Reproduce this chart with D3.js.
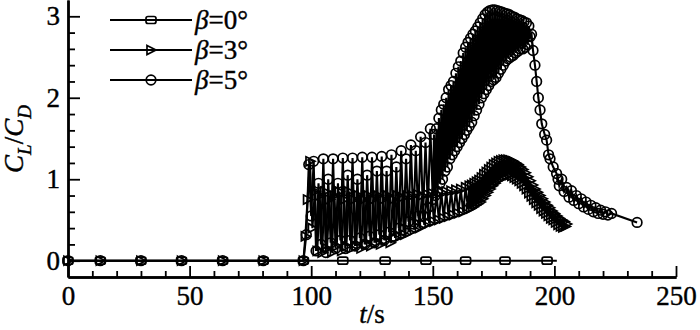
<!DOCTYPE html>
<html>
<head>
<meta charset="utf-8">
<script src="https://cdn.jsdelivr.net/npm/d3@7"></script>
<style>
  body { margin: 0; background: #fff; }
  svg { display: block; }
</style>
</head>
<body>
<svg width="700" height="330"></svg>
<script>
const FONT = "'Liberation Serif', 'Times New Roman', serif";

// tick values
const xMajor = [0, 50, 100, 150, 200, 250];
const yMajor = [0, 1, 2, 3];
const betaAngles = [0, 3, 5];

// beta = 0 deg : [t, CL/CD]
const beta0 = [[0,0],[13.3,0],[30,0],[46.7,0],[63.6,0],[80.3,0],[96.8,0],[113,0],[130.4,0],
  [147.2,0],[163.5,0],[179.7,0],[197,0],[201,0]];

// beta = 3 deg
const beta3 = [[0,0],[13.3,0],[30,0],[46.7,0],[63.6,0],[80.3,0],[96.8,0],
  [97.6,0.3],[98.5,0.75],[99.5,1.22],[100.5,0.4],[101.5,0.85],[102.5,0.12],[103.5,0.8],[104.5,0.1],
  [105.5,0.85],[106.5,0.15],[107.5,0.75],[108.5,0.1],[109.5,0.8],[110.5,0.18],[111.5,0.85],
  [112.5,0.12],[113.5,0.75],[114.5,0.18],[115.5,0.85],[116.5,0.15],[117.5,0.75],[118.5,0.18],
  [119.5,0.8],[120.5,0.15],[121.5,0.75],[122.5,0.2],[123.5,0.8],[124.5,0.18],[125.5,0.75],
  [126.5,0.22],[127.5,0.8],[128.5,0.2],[129.5,0.75],[130.5,0.25],[131.5,0.8],[132.5,0.22],
  [133.5,0.75],[134.5,0.28],[135.5,0.8],[136.5,0.3],[137.5,0.78],[138.5,0.32],[139.5,0.8],
  [140.5,0.35],[141.5,0.8],[142.5,0.38],[143.5,0.82],[144.5,0.4],[145.5,0.8],[146.5,0.44],
  [147.5,0.82],[148.5,0.46],[149.5,0.83],[150.5,0.48],[151.5,0.82],[152.5,0.5],[153.5,0.84],
  [154.5,0.52],[155.5,0.85],[156.5,0.54],[157.5,0.86],[158.5,0.56],[159.5,0.87],[160.5,0.58],
  [161.5,0.88],[162.5,0.6],[163.5,0.9],[164.5,0.63],[165,0.92],[165.5,0.64],[166,0.93],[166.5,0.66],
  [167,0.95],[167.5,0.68],[168,0.97],[168.5,0.7],[169,0.99],[169.5,0.72],[170,1.02],[170.5,0.76],
  [171,1.06],[171.5,0.8],[172,1.09],[172.5,0.84],[173,1.12],[173.5,0.88],[174,1.15],[174.5,0.92],
  [175,1.18],[175.5,0.95],[176,1.2],[176.5,0.98],[177,1.22],[177.5,1.0],[178,1.23],[178.5,1.02],
  [179,1.24],[179.5,1.03],[180,1.24],[180.5,1.05],[181,1.24],[181.5,1.05],[182,1.23],[182.5,1.04],
  [183,1.22],[183.5,1.02],[184,1.2],[184.5,1.0],[185,1.18],[185.5,0.98],[186,1.15],[186.5,0.95],
  [187,1.12],[187.5,0.92],[188,1.08],[188.5,0.88],[189,1.03],[189.5,0.83],[190,0.98],[190.5,0.79],
  [191,0.93],[191.5,0.75],[192,0.88],[192.5,0.71],[193,0.84],[193.5,0.68],[194,0.8],[194.5,0.64],
  [195,0.76],[195.5,0.61],[196,0.72],[196.5,0.58],[197,0.68],[197.5,0.55],[198,0.65],[198.5,0.52],
  [199,0.61],[199.5,0.5],[200,0.58],[200.5,0.47],[201,0.55],[201.5,0.44],[202,0.52],[202.5,0.42],
  [203,0.5],[203.5,0.41],[204,0.48],[204.5,0.42],[205,0.45]];

// beta = 5 deg
const beta5 = [[0,0],[13.3,0],[30,0],[46.7,0],[63.6,0],[80.3,0],[96.8,0],
  [98,0.32],[99,1.18],[100,0.55],[101,1.22],[102,0.12],[103,0.95],[104,0.2],[105,1.25],[106,0.1],
  [107,1.0],[108,0.22],[109,1.25],[110,0.15],[111,0.95],[112,0.25],[113,1.26],[114,0.15],[115,1.05],
  [116,0.25],[117,1.26],[118,0.18],[119,1.0],[120,0.28],[121,1.27],[122,0.2],[123,1.05],[124,0.3],
  [125,1.27],[126,0.22],[127,1.1],[128,0.32],[129,1.28],[130,0.25],[131,1.1],[132,0.35],[133,1.3],
  [134,0.3],[135,1.15],[136,0.4],[137,1.35],[138,0.38],[139,1.25],[140,0.48],[141,1.42],[142,0.45],
  [143,1.35],[144,0.55],[145,1.52],[146,0.55],[147,1.45],[148,0.65],[149,1.62],[150,0.75],
  [150.5,1.55],[151,0.8],[151.5,1.62],[152,0.85],[152.5,1.75],[153,0.95],[153.5,1.85],[154,1.0],
  [154.5,1.92],[155,1.1],[155.5,2.0],[156,1.15],[156.5,2.1],[157,1.25],[157.5,2.15],[158,1.3],
  [158.5,2.2],[159,1.35],[159.5,2.3],[160,1.4],[160.5,2.38],[161,1.45],[161.5,2.45],[162,1.5],
  [162.5,2.55],[163,1.55],[163.5,2.62],[164,1.6],[164.5,2.68],[165,1.65],[165.5,2.73],[166,1.7],
  [166.5,2.78],[167,1.78],[167.5,2.82],[168,1.85],[168.5,2.87],[169,1.92],[169.5,2.92],[170,2.0],
  [170.5,2.97],[171,2.05],[171.5,3.02],[172,2.1],[172.5,3.05],[173,2.15],[173.5,3.07],[174,2.2],
  [174.5,3.08],[175,2.22],[175.5,3.08],[176,2.25],[176.5,3.07],[177,2.3],[177.5,3.06],[178,2.35],
  [178.5,3.05],[179,2.4],[179.5,3.04],[180,2.45],[180.5,3.03],[181,2.48],[181.5,3.02],[182,2.5],
  [182.5,3.0],[183,2.52],[183.5,2.99],[184,2.55],[184.5,2.97],[185,2.57],[185.5,2.96],[186,2.6],
  [186.5,2.95],[187,2.6],[187.5,2.93],[188,2.62],[188.5,2.92],[189,2.65],[189.5,2.88],[190,2.75],
  [190.6,2.78],[191.2,2.58],[192,2.4],[192.7,2.2],[193.4,2.0],[194.1,1.85],[194.8,1.68],[196,1.55],
  [196.8,1.48],[197.6,1.3],[198.2,1.25],[199.5,1.15],[200.9,1.07],[201.5,1.0],[202,0.92],[203,1.0],
  [204,0.85],[205,0.9],[206,0.78],[207,0.86],[208,0.74],[209,0.8],[210,0.7],[211,0.76],[212,0.66],
  [213,0.72],[214,0.63],[215,0.68],[216,0.6],[217,0.65],[218,0.58],[219,0.62],[220,0.57],[221,0.6],
  [222,0.56],[223.5,0.58],[234,0.47]];

const svg = d3.select("svg");

const x = d3.scaleLinear().domain([0, 250]).range([68, 676]);
const y = d3.scaleLinear().domain([-0.2, 3.2]).range([277, 0]);

// markers
function drawMarker(g, shape) {
    if (shape === "circle") {
        g.append("circle").attr("r", 4.8);
    } else if (shape === "square") {
        g.append("rect").attr("x", -5).attr("y", -3.5).attr("width", 10).attr("height", 7).attr("rx", 2);
    } else {
        g.append("path").attr("d", "M-4,-4.5L5,0L-4,4.5Z");
    }
}

const series = [
    { data: beta0, shape: "square", skipLast: true },
    { data: beta3, shape: "triangle", skipLast: false },
    { data: beta5, shape: "circle", skipLast: false }
];

const line = d3.line().x(d => x(d[0])).y(d => y(d[1]));
const plot = svg.append("g");

series.forEach(s => {
    plot.append("path")
        .datum(s.data)
        .attr("d", line)
        .attr("fill", "none")
        .attr("stroke", "#000")
        .attr("stroke-width", 2.1);

    const pts = s.skipLast ? s.data.slice(0, -1) : s.data;
    plot.append("g")
        .selectAll("g")
        .data(pts)
        .enter()
        .append("g")
        .attr("transform", d => `translate(${x(d[0])},${y(d[1])})`)
        .each(function () { drawMarker(d3.select(this), s.shape); })
        .selectAll("*")
        .attr("fill", "none")
        .attr("stroke", "#000")
        .attr("stroke-width", 1.7);
});

// axes
const xMinor = d3.range(10, 250, 10).filter(v => v % 50 !== 0);
const yMinor = d3.range(1, 16).map(v => v / 5).filter(v => Math.abs(v - Math.round(v)) > 1e-6);

const xAxis = svg.append("g").attr("transform", "translate(0,277)");
xAxis.call(d3.axisBottom(x).tickValues(xMinor).tickSize(-6).tickSizeOuter(0).tickFormat(""));
xAxis.append("g").call(d3.axisBottom(x).tickValues(xMajor).tickSize(-11).tickSizeOuter(0)
    .tickPadding(9).tickFormat(d3.format("d")));

const yAxis = svg.append("g").attr("transform", "translate(68,0)");
yAxis.call(d3.axisLeft(y).tickValues(yMinor).tickSize(-7).tickSizeOuter(0).tickFormat(""));
yAxis.append("g").call(d3.axisLeft(y).tickValues(yMajor).tickSize(-12).tickSizeOuter(0)
    .tickPadding(8).tickFormat(d3.format("d")));

svg.selectAll(".domain").attr("stroke", "#000").attr("stroke-width", 2.4);
svg.selectAll(".tick line").attr("stroke", "#000").attr("stroke-width", 1.8);
svg.selectAll(".tick text")
    .style("font-family", FONT)
    .style("font-size", "27px")
    .style("stroke", "#000")
    .style("stroke-width", "0.4px")
    .attr("fill", "#000");

// axis titles
const xt = svg.append("text")
    .attr("x", 372).attr("y", 323)
    .attr("text-anchor", "middle")
    .style("font-family", FONT)
    .style("font-size", "27px")
    .style("stroke", "#000")
    .style("stroke-width", "0.4px");
xt.append("tspan").style("font-style", "italic").text("t");
xt.append("tspan").text("/s");

const yt = svg.append("text")
    .attr("transform", "translate(23,139) rotate(-90)")
    .attr("text-anchor", "middle")
    .style("font-family", FONT)
    .style("font-size", "27px")
    .style("stroke", "#000")
    .style("stroke-width", "0.4px");
yt.append("tspan").style("font-style", "italic").text("C");
yt.append("tspan").style("font-style", "italic").style("font-size", "19px").attr("dy", 8).text("L");
yt.append("tspan").attr("dy", -8).text("/");
yt.append("tspan").style("font-style", "italic").text("C");
yt.append("tspan").style("font-style", "italic").style("font-size", "19px").attr("dy", 8).text("D");

// legend
const legend = svg.append("g");
betaAngles.forEach((a, i) => {
    const ly = 20 + i * 30;
    legend.append("line")
        .attr("x1", 110).attr("x2", 192)
        .attr("y1", ly).attr("y2", ly)
        .attr("stroke", "#000").attr("stroke-width", 2.1);
    const m = legend.append("g").attr("transform", `translate(151,${ly})`);
    drawMarker(m, series[i].shape);
    m.selectAll("*").attr("fill", "none").attr("stroke", "#000").attr("stroke-width", 1.7);
    const t = legend.append("text").attr("x", 195).attr("y", ly + 9)
        .style("font-family", FONT)
        .style("font-size", "27px")
        .style("stroke", "#000")
        .style("stroke-width", "0.4px");
    t.append("tspan").style("font-style", "italic").text("β");
    t.append("tspan").text("=" + a + "°");
});
</script>
</body>
</html>
